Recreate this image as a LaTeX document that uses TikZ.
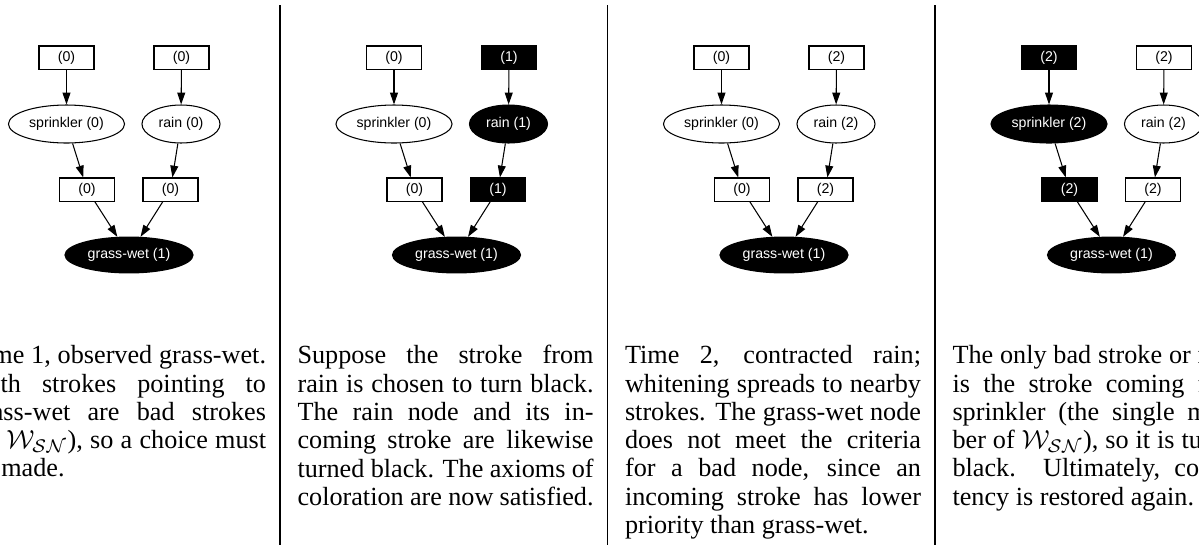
\documentclass[tikz,border=0pt]{standalone}
\usepackage{fontspec}
\setmainfont{Liberation Serif}
\newfontfamily\graphfont{Liberation Sans}
\usetikzlibrary{shapes,arrows.meta}

\begin{document}
\begin{tikzpicture}[x=0.3817pt, y=-0.3817pt,
    box/.style={draw, rectangle, line width=0.4pt, minimum width=21pt, minimum height=8.8pt, inner sep=0pt, font=\graphfont\fontsize{5.4}{6}\selectfont},
    ell/.style={draw, ellipse, line width=0.4pt, minimum height=14.5pt, inner sep=0pt, font=\graphfont\fontsize{5.4}{6}\selectfont},
    blk/.style={fill=black, text=white},
    wht/.style={fill=white, text=black},
    link/.style={-{Triangle[length=4.5pt,width=3pt]}, line width=0.4pt},
    note/.style={anchor=north west, inner sep=0pt, text width=113pt, align=justify, font=\sloppy\fontsize{10}{10.8}\selectfont}]

    \useasboundingbox (0,0) rectangle (1199,544);
    \clip (0,0) rectangle (1199,544);

%separators
    \foreach \k in {0,1,2} {
        \draw[line width=0.5pt] (280+327.5*\k,5) -- (280+327.5*\k,560);
    }

%graphs
    \foreach \k/\lnum/\lsty/\rnum/\rsty in {0/0/wht/0/wht, 1/0/wht/1/blk, 2/0/wht/2/wht, 3/2/blk/2/wht} {
        \pgfmathsetmacro\dx{327.5*\k}
        \node[box,\lsty] (tl\k) at (66.5+\dx,57.5) {(\lnum)};
        \node[box,\rsty] (tr\k) at (181.5+\dx,57.5) {(\rnum)};
        \node[ell,\lsty,minimum width=44.3pt] (spr\k) at (66.5+\dx,124) {sprinkler (\lnum)};
        \node[ell,\rsty,minimum width=29.8pt] (rain\k) at (181+\dx,124) {rain (\rnum)};
        \node[box,\lsty] (ll\k) at (87+\dx,189.5) {(\lnum)};
        \node[box,\rsty] (lr\k) at (170.5+\dx,189.5) {(\rnum)};
        \node[ell,blk,minimum width=48.9pt,minimum height=13.7pt] (gw\k) at (129+\dx,255) {grass-wet (1)};
        \draw[link] (tl\k) -- (spr\k);
        \draw[link] (tr\k) -- (rain\k);
        \draw[link] (spr\k) -- (ll\k);
        \draw[link] (rain\k) -- (lr\k);
        \draw[link] (ll\k) -- (gw\k);
        \draw[link] (lr\k) -- (gw\k);
    }

%captions
    \node[note] (txt0) at (-30.5,345) {Time 1, observed grass-wet.\linebreak Both strokes pointing to\linebreak grass-wet are bad strokes\linebreak (in $\mathcal{W}_{\mathcal{SN}}$), so a choice must\linebreak be made.};
    \node[note] (txt1) at (297,345) {Suppose the stroke from\linebreak rain is chosen to turn black.\linebreak The rain node and its in-\linebreak coming stroke are likewise\linebreak turned black. The axioms of\linebreak coloration are now satisfied.};
    \node[note] (txt2) at (624.5,345) {Time 2, contracted rain;\linebreak whitening spreads to nearby\linebreak strokes. The grass-wet node\linebreak does not meet the criteria\linebreak for a bad node, since an\linebreak incoming stroke has lower\linebreak priority than grass-wet.};
    \node[note] (txt3) at (952,345) {The only bad stroke or node\linebreak is the stroke coming from\linebreak sprinkler (the single mem-\linebreak ber of $\mathcal{W}_{\mathcal{SN}}$), so it is turned\linebreak black. Ultimately, consis-\linebreak tency is restored again.};

\end{tikzpicture}
\end{document}
